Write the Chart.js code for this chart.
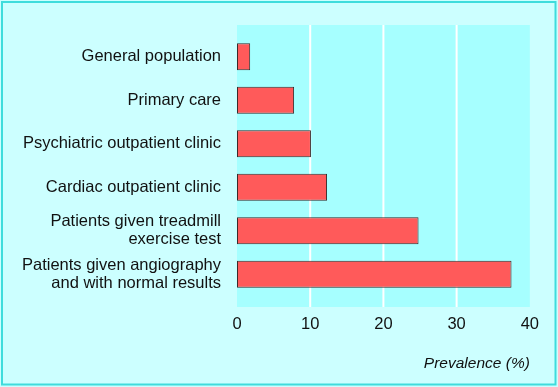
<!DOCTYPE html>
<html>
<head>
<meta charset="utf-8">
<script src="https://cdn.jsdelivr.net/npm/chart.js@4"></script>
<style>
  html, body { margin: 0; padding: 0; background: #ffffff; }
  #wrap { width: 558px; height: 387px; }
</style>
</head>
<body>
<div id="wrap"><canvas id="chart" width="558" height="387"></canvas></div>
<script>
const categories = [
    "General population",
    "Primary care",
    "Psychiatric outpatient clinic",
    "Cardiac outpatient clinic",
    ["Patients given treadmill", "exercise test"],
    ["Patients given angiography", "and with normal results"]
];
const prevalence = [1.8, 7.8, 10.1, 12.3, 24.8, 37.5];
const tickValues = [0, 10, 20, 30, 40];
const gridValues = [10, 20, 30];

// background panel, frame and white gridlines (panel sticks out past the category area)
const panelPlugin = {
    id: "panel",
    beforeDraw(chart) {
        const ctx = chart.ctx;
        const xs = chart.scales.x;
        const area = chart.chartArea;
        ctx.save();
        ctx.fillStyle = "#ccffff";
        ctx.fillRect(0, 0, chart.width, chart.height);
        ctx.strokeStyle = "#3fdcdc";
        ctx.lineWidth = 2;
        ctx.strokeRect(2, 2, chart.width - 4.5, chart.height - 4.5);
        const top = area.top - 10, bottom = area.bottom + 11;
        ctx.fillStyle = "#a6ffff";
        ctx.fillRect(area.left, top, area.right - area.left, bottom - top);
        ctx.strokeStyle = "#ffffff";
        ctx.lineWidth = 2;
        gridValues.forEach(v => {
            const x = xs.getPixelForValue(v);
            ctx.beginPath();
            ctx.moveTo(x, top);
            ctx.lineTo(x, bottom);
            ctx.stroke();
        });
        ctx.restore();
    }
};

const family = "'Liberation Sans', Arial, sans-serif";
const font = { family: family, size: 16.5, lineHeight: 1.08 };

new Chart(document.getElementById("chart"), {
    type: "bar",
    data: {
        labels: categories,
        datasets: [{
            data: prevalence,
            backgroundColor: "#ff5a5a",
            borderColor: "#3a2a2a",
            borderWidth: 1,
            borderSkipped: false,
            barPercentage: 0.62,
            categoryPercentage: 1
        }]
    },
    options: {
        indexAxis: "y",
        responsive: false,
        animation: false,
        layout: { padding: { top: 35, right: 26, bottom: 0, left: 0 } },
        plugins: {
            legend: { display: false },
            tooltip: { enabled: false }
        },
        scales: {
            x: {
                min: 0,
                max: 40,
                afterBuildTicks(scale) {
                    scale.ticks = tickValues.map(v => ({ value: v }));
                },
                afterFit(scale) { scale.height = 91; },
                grid: { display: false, drawTicks: false },
                border: { display: false },
                ticks: { color: "#111111", font: { family: family, size: 16.5 }, padding: 19 },
                title: {
                    display: true,
                    text: "Prevalence (%)",
                    align: "end",
                    color: "#111111",
                    font: { family: family, size: 15.5, style: "italic" },
                    padding: { top: 0, bottom: 14 }
                }
            },
            y: {
                afterFit(scale) { scale.width = 237; },
                grid: { display: false, drawTicks: false },
                border: { display: false },
                ticks: { color: "#111111", font: font, padding: 16 }
            }
        }
    },
    plugins: [panelPlugin]
});
</script>
</body>
</html>
